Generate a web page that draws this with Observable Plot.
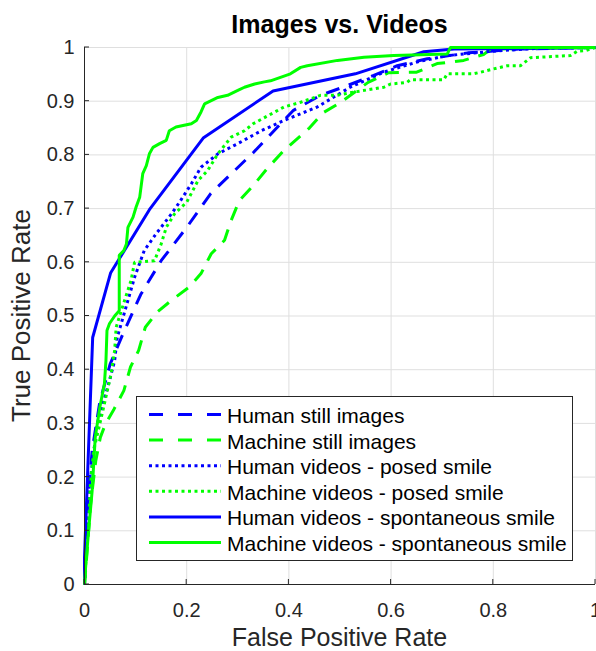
<!DOCTYPE html>
<html><head><meta charset="utf-8">
<script src="https://cdn.jsdelivr.net/npm/d3@7"></script>
<script src="https://cdn.jsdelivr.net/npm/@observablehq/plot@0.6"></script>
<style>body{margin:0;background:#fff}svg{display:block}</style>
</head><body><div id="chart"></div>
<script>
const titleText = "Images vs. Videos";
const xLabel = "False Positive Rate";
const yLabel = "True Positive Rate";
const xTicks = [0, 0.2, 0.4, 0.6, 0.8, 1];
const yTicks = [0, 0.1, 0.2, 0.3, 0.4, 0.5, 0.6, 0.7, 0.8, 0.9, 1];
const seriesNames = [
  "Human still images",
  "Machine still images",
  "Human videos - posed smile",
  "Machine videos - posed smile",
  "Human videos - spontaneous smile",
  "Machine videos - spontaneous smile"
];

// Human still images
const humanStillFPR = [0,0.004,0.015,0.03,0.05,0.074,0.11,0.15,0.2,0.247,0.331,0.409,0.462,0.514,0.566,0.612,0.671,0.75,0.85,1];
const humanStillTPR = [0,0.12,0.25,0.34,0.41,0.464,0.54,0.603,0.665,0.728,0.805,0.883,0.911,0.929,0.948,0.966,0.979,0.99,0.997,1];
// Machine still images
const machineStillFPR = [0,0.005,0.012,0.022,0.031,0.041,0.058,0.077,0.09,0.106,0.119,0.142,0.17,0.205,0.228,0.248,0.274,0.287,0.303,0.333,0.357,0.39,0.44,0.466,0.5,0.555,0.595,0.65,0.69,0.742,0.781,0.795,1];
const machineStillTPR = [0,0.06,0.15,0.23,0.274,0.299,0.327,0.361,0.405,0.436,0.479,0.507,0.529,0.554,0.579,0.616,0.641,0.678,0.715,0.746,0.774,0.808,0.85,0.878,0.897,0.935,0.953,0.954,0.97,0.976,0.987,0.997,1];
// Human videos - posed smile
const humanPosedFPR = [0,0.004,0.012,0.025,0.049,0.059,0.064,0.085,0.098,0.117,0.14,0.17,0.186,0.209,0.228,0.261,0.3,0.346,0.39,0.455,0.52,0.585,0.651,0.71,0.81,0.9,1];
const humanPosedTPR = [0,0.1,0.2,0.3,0.38,0.417,0.46,0.529,0.572,0.622,0.653,0.69,0.712,0.746,0.777,0.802,0.821,0.845,0.864,0.889,0.926,0.954,0.973,0.985,0.994,0.999,1];
// Machine videos - posed smile
const machinePosedFPR = [0,0.003,0.008,0.018,0.035,0.052,0.059,0.062,0.072,0.091,0.098,0.137,0.15,0.16,0.176,0.2,0.222,0.241,0.261,0.287,0.313,0.33,0.39,0.423,0.462,0.494,0.527,0.586,0.599,0.631,0.638,0.703,0.71,0.761,0.775,0.8,0.827,0.853,0.873,0.951,0.964,0.98,1];
const machinePosedTPR = [0,0.05,0.15,0.25,0.32,0.392,0.436,0.479,0.51,0.566,0.6,0.603,0.634,0.665,0.69,0.712,0.752,0.771,0.802,0.833,0.845,0.858,0.889,0.898,0.911,0.911,0.917,0.926,0.932,0.935,0.94,0.94,0.951,0.951,0.954,0.96,0.966,0.966,0.981,0.985,0.993,0.994,1];
// Human videos - spontaneous smile
const humanSpontFPR = [0,0,0.016,0.051,0.127,0.233,0.369,0.53,0.664,0.723,1];
const humanSpontTPR = [0,0.05,0.46,0.58,0.698,0.832,0.919,0.951,0.992,0.997,1];
// Machine videos - spontaneous smile
const machineSpontFPR = [0,0.002,0.008,0.015,0.021,0.03,0.039,0.042,0.044,0.049,0.059,0.068,0.068,0.077,0.082,0.085,0.095,0.101,0.108,0.114,0.121,0.127,0.134,0.147,0.16,0.166,0.179,0.209,0.219,0.228,0.235,0.248,0.261,0.28,0.3,0.313,0.333,0.352,0.364,0.403,0.423,0.436,0.495,0.547,0.605,0.71,0.716,1];
const machineSpontTPR = [0,0.03,0.1,0.175,0.274,0.33,0.374,0.417,0.473,0.486,0.5,0.51,0.613,0.622,0.634,0.665,0.684,0.703,0.721,0.765,0.78,0.802,0.814,0.821,0.827,0.845,0.852,0.858,0.864,0.88,0.895,0.901,0.907,0.911,0.92,0.926,0.932,0.936,0.938,0.951,0.963,0.966,0.976,0.982,0.985,0.988,1,1];

const allFPR = [humanStillFPR, machineStillFPR, humanPosedFPR, machinePosedFPR, humanSpontFPR, machineSpontFPR];
const allTPR = [humanStillTPR, machineStillTPR, humanPosedTPR, machinePosedTPR, humanSpontTPR, machineSpontTPR];

// styles (kept apart from the data)
const BLUE = "#0000ff", GREEN = "#00ff00";
const styles = [
  {stroke: BLUE, dash: "14,10", legendDash: "14,15"},
  {stroke: GREEN, dash: "14,10", legendDash: "14,15"},
  {stroke: BLUE, dash: "3,3.5", legendDash: "3,3.5"},
  {stroke: GREEN, dash: "3,3.5", legendDash: "3,3.5"},
  {stroke: BLUE, dash: null, legendDash: null},
  {stroke: GREEN, dash: null, legendDash: null}
];

const tables = seriesNames.map((name, i) => allFPR[i].map((f, j) => ({series: name, fpr: f, tpr: allTPR[i][j]})));

const FONT = "'Liberation Sans', Arial, Helvetica, sans-serif";
const INK = "#262626";
const GRID = "#dfdfdf";
const LW = 3;

const chart = Plot.plot({
  width: 596,
  height: 651,
  marginLeft: 84,
  marginRight: 1,
  marginTop: 47,
  marginBottom: 67,
  style: {fontFamily: FONT, fontSize: "20px", color: INK, background: "white", overflow: "visible"},
  x: {domain: [0, 1], label: null},
  y: {domain: [0, 1], label: null},
  marks: [
    Plot.gridX(xTicks, {stroke: GRID, strokeOpacity: 1, strokeWidth: 1}),
    Plot.gridY(yTicks, {stroke: GRID, strokeOpacity: 1, strokeWidth: 1}),
    ...tables.map((t, i) => Plot.line(t, {
      x: "fpr", y: "tpr",
      stroke: styles[i].stroke,
      strokeWidth: LW,
      strokeDasharray: styles[i].dash,
      strokeLinejoin: "miter",
      strokeLinecap: "butt"
    })),
    Plot.ruleX([0], {stroke: INK, strokeWidth: 1}),
    Plot.ruleY([0], {stroke: INK, strokeWidth: 1}),
    Plot.axisX(xTicks, {tickSize: 0, tickPadding: 18, fontSize: 20, fill: INK, tickFormat: d => String(d), label: null}),
    Plot.axisY(yTicks, {tickSize: 0, tickPadding: 10, fontSize: 20, fill: INK, tickFormat: d => String(d), label: null})
  ]
});

document.getElementById("chart").appendChild(chart);

const sx = chart.scale("x"), sy = chart.scale("y");
const svg = d3.select(chart);
const x0 = sx.apply(0), x1 = sx.apply(1), y0 = sy.apply(0), y1 = sy.apply(1);

// inward tick marks
const tk = svg.append("g").attr("stroke", INK).attr("stroke-width", 1);
xTicks.forEach(v => tk.append("line").attr("x1", sx.apply(v)).attr("x2", sx.apply(v)).attr("y1", y0).attr("y2", y0 - 5));
yTicks.forEach(v => tk.append("line").attr("x1", x0).attr("x2", x0 + 5).attr("y1", sy.apply(v)).attr("y2", sy.apply(v)));

// title and axis labels
svg.append("text").attr("x", (x0 + x1) / 2).attr("y", 33).attr("text-anchor", "middle")
  .attr("font-family", FONT).attr("font-size", 25).attr("font-weight", "bold").attr("fill", "#000").text(titleText);
svg.append("text").attr("x", (x0 + x1) / 2).attr("y", 646).attr("text-anchor", "middle")
  .attr("font-family", FONT).attr("font-size", 25).attr("fill", INK).text(xLabel);
svg.append("text").attr("transform", `translate(30,${(y0 + y1) / 2}) rotate(-90)`).attr("text-anchor", "middle")
  .attr("font-family", FONT).attr("font-size", 26).attr("fill", INK).text(yLabel);

// legend
const lg = svg.append("g");
lg.append("rect").attr("x", 136.5).attr("y", 396.5).attr("width", 436).attr("height", 164)
  .attr("fill", "white").attr("stroke", INK).attr("stroke-width", 1);
seriesNames.forEach((name, i) => {
  const cy = 416 + i * 25.6;
  lg.append("line").attr("x1", 149).attr("x2", 221).attr("y1", cy - 1.5).attr("y2", cy - 1.5)
    .attr("stroke", styles[i].stroke).attr("stroke-width", LW)
    .attr("stroke-dasharray", styles[i].legendDash);
  lg.append("text").attr("x", 227).attr("y", cy + 7).attr("text-anchor", "start")
    .attr("font-family", FONT).attr("font-size", 21).attr("fill", "#000").text(name);
});
</script>
</body></html>
